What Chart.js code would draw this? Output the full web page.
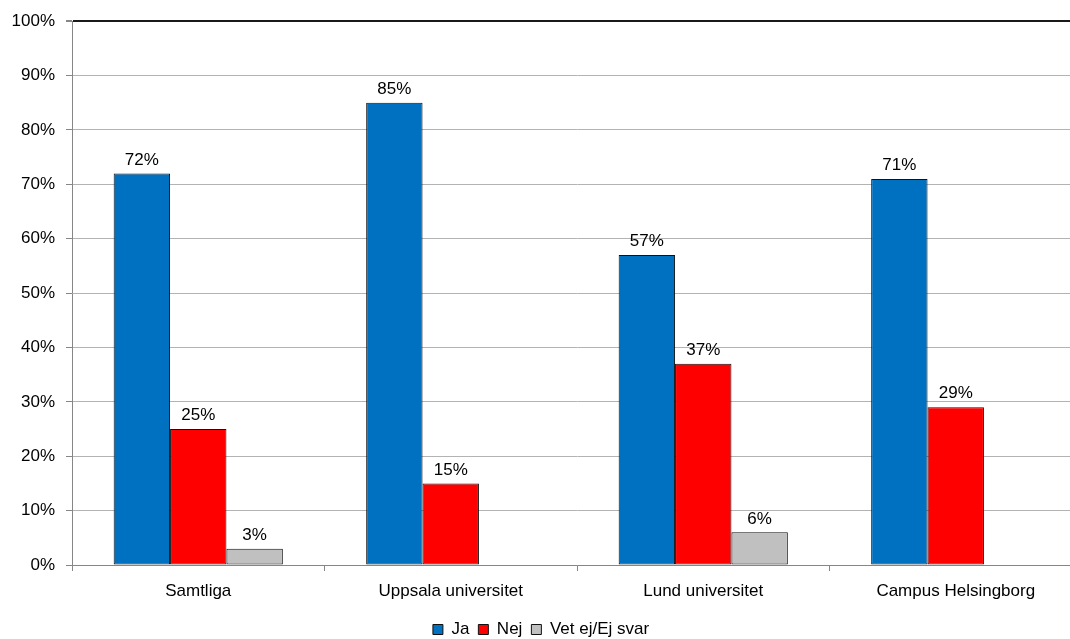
<!DOCTYPE html>
<html>
<head>
<meta charset="utf-8">
<script src="https://cdn.jsdelivr.net/npm/chart.js@4/dist/chart.umd.min.js"></script>
<style>
  html, body { margin: 0; padding: 0; background: #fff; overflow: hidden; }
  #wrap { width: 1082px; height: 639px; position: relative; }
</style>
</head>
<body>
<div id="wrap"><canvas id="chart"></canvas></div>
<script>
const categories = ['Samtliga', 'Uppsala universitet', 'Lund universitet', 'Campus Helsingborg'];
const ja = [72, 85, 57, 71];
const nej = [25, 15, 37, 29];
const vetEj = [3, null, 6, null];

const FONT = "'Liberation Sans', Arial, sans-serif";

// labels above each bar
const barLabels = {
    id: 'barLabels',
    afterDatasetsDraw(chart) {
        const ctx = chart.ctx;
        ctx.save();
        ctx.font = '17px ' + FONT;
        ctx.fillStyle = '#000';
        ctx.textAlign = 'center';
        ctx.textBaseline = 'bottom';
        chart.data.datasets.forEach((ds, i) => {
            const meta = chart.getDatasetMeta(i);
            meta.data.forEach((bar, j) => {
                const v = ds.data[j];
                if (v === null || v === undefined) return;
                ctx.fillText(v + '%', bar.x, bar.y - 5);
            });
        });
        ctx.restore();
    }
};

new Chart(document.getElementById('chart').getContext('2d'), {
    type: 'bar',
    data: {
        labels: categories,
        datasets: [
            { label: 'Ja', data: ja, backgroundColor: '#0070C0' },
            { label: 'Nej', data: nej, backgroundColor: '#FF0000' },
            { label: 'Vet ej/Ej svar', data: vetEj, backgroundColor: '#C0C0C0' }
        ]
    },
    options: {
        responsive: true,
        maintainAspectRatio: false,
        animation: false,
        layout: { padding: { top: 20, left: 0, right: 0, bottom: -9 } },
        datasets: {
            bar: {
                categoryPercentage: 0.67,
                barPercentage: 1.0,
                borderColor: '#111',
                borderWidth: 1,
                borderSkipped: false
            }
        },
        scales: {
            x: {
                grid: {
                    offset: true,
                    drawOnChartArea: false,
                    tickLength: 6,
                    tickColor: '#868686'
                },
                border: { color: '#868686', width: 1 },
                ticks: {
                    color: '#000',
                    padding: 10,
                    font: { family: FONT, size: 17 }
                },
                afterFit(scale) { scale.height = 47; }
            },
            y: {
                min: 0,
                max: 100,
                ticks: {
                    stepSize: 10,
                    color: '#000',
                    padding: 11,
                    font: { family: FONT, size: 17 },
                    callback: v => v + '%'
                },
                grid: {
                    color: c => c.tick && c.tick.value === 100 ? '#1a1a1a' : '#b3b3b3',
                    lineWidth: c => c.tick && c.tick.value === 100 ? 2 : 1,
                    tickLength: 6,
                    tickColor: '#868686'
                },
                border: { color: '#868686', width: 1 },
                afterFit(scale) { scale.width = 72; }
            }
        },
        plugins: {
            legend: {
                position: 'bottom',
                labels: {
                    boxWidth: 10,
                    boxHeight: 10,
                    padding: 9,
                    color: '#000',
                    font: { family: FONT, size: 17 }
                }
            },
            tooltip: { enabled: false }
        }
    },
    plugins: [barLabels]
});
</script>
</body>
</html>
